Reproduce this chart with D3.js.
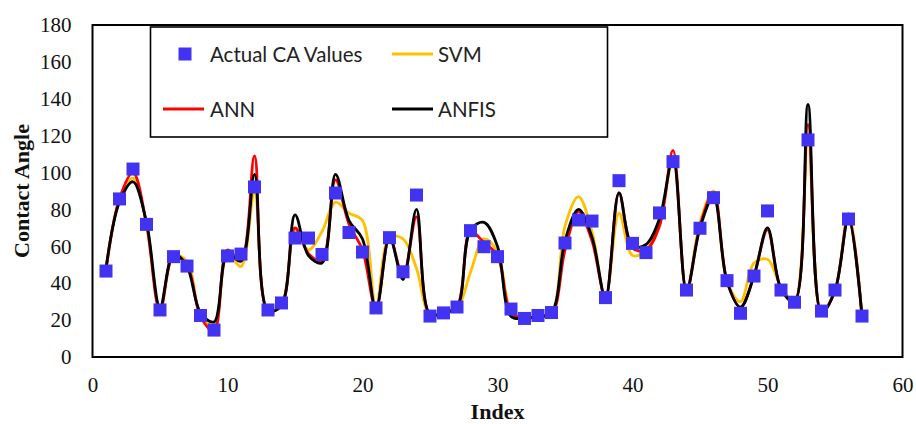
<!DOCTYPE html>
<html>
<head>
<meta charset="utf-8">
<script src="https://cdn.jsdelivr.net/npm/d3@7"></script>
<style>
  body { margin: 0; background: #fff; }
  svg { display: block; }
</style>
</head>
<body>
<svg id="chart" width="916" height="424"></svg>
<script>
// Sample index (1..57)
const sampleIndex = d3.range(1, 58);

// Measured contact angle values
const actualCA = [46.6, 85.7, 101.9, 71.9, 25.5, 54.4, 49.3, 22.5, 14.6, 54.8,
                  55.8, 92.2, 25.5, 29.3, 64.5, 64.5, 55.6, 88.9, 67.5, 56.9,
                  26.6, 64.7, 46.2, 87.8, 22.2, 23.9, 27.1, 68.5, 59.8, 54.4,
                  26.0, 20.9, 22.5, 24.1, 61.8, 74.3, 73.7, 32.2, 95.6, 61.6,
                  56.6, 78.1, 105.9, 36.3, 69.8, 86.4, 41.4, 23.7, 43.9, 79.2,
                  36.3, 29.7, 117.7, 24.9, 36.3, 74.8, 22.2];

// Model predictions
const svmPred = [48, 85, 97, 72, 26, 55, 52, 23, 17, 56,
                 49, 89, 25, 28, 69, 58, 68, 84, 78, 74,
                 27, 65, 64, 48, 23, 24, 26, 46, 64, 57,
                 25, 21, 22, 24, 71, 87, 68, 32, 78, 55,
                 58, 73, 107, 36, 73, 90, 41, 30, 51, 53,
                 38, 30, 119, 24, 36, 78, 22];

const annPred = [47, 86, 100, 72, 25, 55, 50, 22, 14, 58,
                 52, 109, 25, 28, 70, 56, 52, 96, 72, 58,
                 26, 65, 44, 76, 23, 24, 27, 68, 62, 55,
                 24, 21, 22, 23, 58, 79, 63, 32, 89, 59,
                 58, 71, 112, 36, 71, 89, 41, 27, 44, 69,
                 37, 30, 126, 24, 36, 76, 22];

const anfisPred = [48, 84, 95, 73, 27, 56, 49, 24, 19, 56,
                   52, 99, 25, 28, 77, 55, 51, 99, 74, 64,
                   26, 65, 42, 80, 23, 24, 27, 69, 73, 60,
                   22, 21, 22, 24, 63, 80, 65, 32, 89, 60,
                   61, 75, 108, 36, 70, 87, 41, 27, 44, 70,
                   37, 30, 137, 24, 36, 75, 22];

const xTicks = [0, 10, 20, 30, 40, 50, 60];
const yTicks = [0, 20, 40, 60, 80, 100, 120, 140, 160, 180];

const seriesNames = ["Actual CA Values", "SVM", "ANN", "ANFIS"];
const colors = { actual: "#4232F2", svm: "#FFC000", ann: "#FF0000", anfis: "#000000" };

const svg = d3.select("#chart");

const x = d3.scaleLinear().domain([0, 60]).range([92.5, 902.5]);
const y = d3.scaleLinear().domain([0, 180]).range([357, 25]);

// Axes (labels only, no tick marks)
const serif = "'Liberation Serif', 'Times New Roman', serif";

const yAxis = svg.append("g")
  .attr("transform", `translate(${x(0)},0)`)
  .call(d3.axisLeft(y).tickValues(yTicks).tickSize(0).tickPadding(21));
yAxis.select(".domain").remove();
yAxis.selectAll("text")
  .attr("font-family", serif).attr("font-size", 21).attr("fill", "#111");

const xAxis = svg.append("g")
  .attr("transform", `translate(0,${y(0)})`)
  .call(d3.axisBottom(x).tickValues(xTicks).tickSize(0).tickPadding(20));
xAxis.select(".domain").remove();
xAxis.selectAll("text")
  .attr("font-family", serif).attr("font-size", 21).attr("fill", "#111");

// Axis titles
svg.append("text")
  .attr("x", (x(0) + x(60)) / 2).attr("y", 419)
  .attr("text-anchor", "middle")
  .attr("font-family", serif).attr("font-weight", "bold").attr("font-size", 22)
  .attr("fill", "#111")
  .text("Index");

svg.append("text")
  .attr("transform", `translate(29,${(y(0) + y(180)) / 2}) rotate(-90)`)
  .attr("text-anchor", "middle")
  .attr("font-family", serif).attr("font-weight", "bold").attr("font-size", 22)
  .attr("fill", "#111")
  .text("Contact Angle");

// Plot frame
svg.append("rect")
  .attr("x", x(0)).attr("y", y(180))
  .attr("width", x(60) - x(0)).attr("height", y(0) - y(180))
  .attr("fill", "none").attr("stroke", "#000").attr("stroke-width", 2);

// Smoothed model lines (centripetal Catmull-Rom keeps steep drops from overshooting)
const lineFor = vals => d3.line()
  .x((d, i) => x(sampleIndex[i]))
  .y(d => y(d))
  .curve(d3.curveCatmullRom.alpha(0.5))(vals);

[[svmPred, colors.svm], [annPred, colors.ann], [anfisPred, colors.anfis]].forEach(([vals, c]) => {
  svg.append("path")
    .attr("d", lineFor(vals))
    .attr("fill", "none")
    .attr("stroke", c)
    .attr("stroke-width", 2.8)
    .attr("stroke-linejoin", "round");
});

// Measured values as square markers
const markerSize = 13;
svg.append("g").selectAll("rect")
  .data(actualCA)
  .join("rect")
  .attr("x", (d, i) => x(sampleIndex[i]) - markerSize / 2)
  .attr("y", d => y(d) - markerSize / 2)
  .attr("width", markerSize).attr("height", markerSize)
  .attr("fill", colors.actual);

// Legend
const legend = svg.append("g");
legend.append("rect")
  .attr("x", 150.5).attr("y", 27).attr("width", 457).attr("height", 110)
  .attr("fill", "#fff").attr("stroke", "#000").attr("stroke-width", 1.6);

const sans = "Lato, 'Open Sans', sans-serif";
const legendItems = [
  { name: seriesNames[0], type: "marker", color: colors.actual, lx: 163, tx: 210, cy: 54 },
  { name: seriesNames[1], type: "line", color: colors.svm, lx: 392, tx: 438, cy: 54 },
  { name: seriesNames[2], type: "line", color: colors.ann, lx: 163, tx: 210, cy: 109 },
  { name: seriesNames[3], type: "line", color: colors.anfis, lx: 392, tx: 438, cy: 109 }
];
legendItems.forEach(it => {
  if (it.type === "marker") {
    legend.append("rect")
      .attr("x", 185 - markerSize / 2).attr("y", it.cy - markerSize / 2)
      .attr("width", markerSize).attr("height", markerSize)
      .attr("fill", it.color);
  } else {
    legend.append("line")
      .attr("x1", it.lx).attr("x2", it.lx + 41)
      .attr("y1", it.cy).attr("y2", it.cy)
      .attr("stroke", it.color).attr("stroke-width", 2.8);
  }
  legend.append("text")
    .attr("x", it.tx).attr("y", it.cy + 7.5)
    .attr("font-family", sans).attr("font-size", 20.5)
    .attr("fill", "#222")
    .text(it.name);
});
</script>
</body>
</html>
